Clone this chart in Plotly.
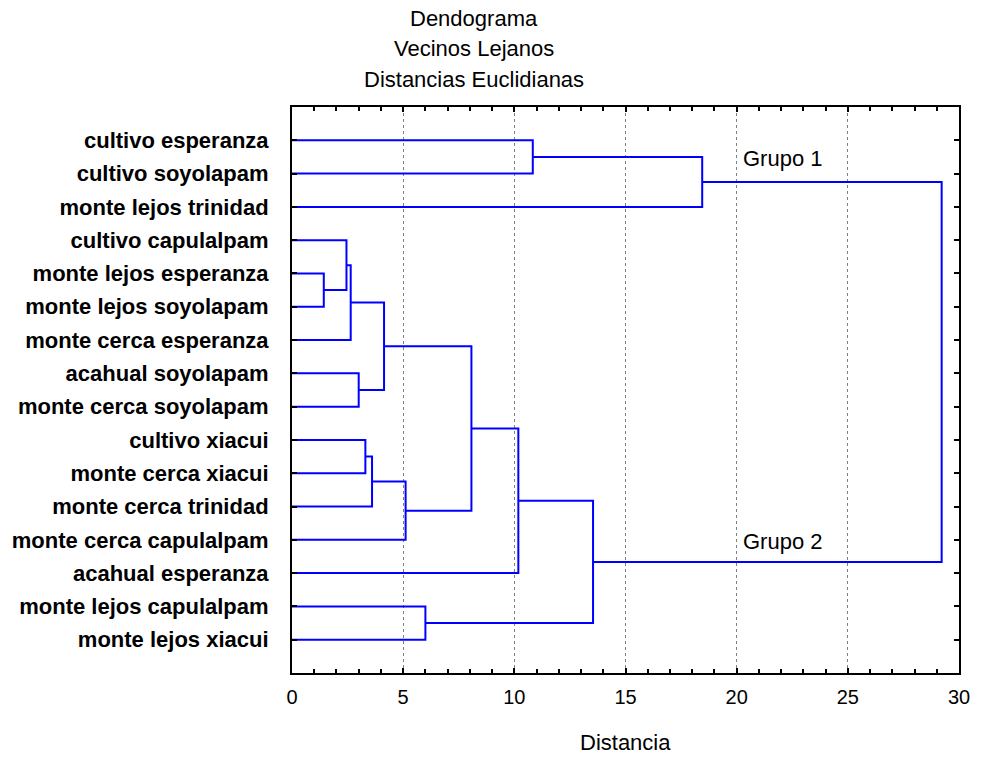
import plotly.graph_objects as go

# Leaves of the dendrogram, top to bottom
leaf_labels = [
    "cultivo esperanza",
    "cultivo soyolapam",
    "monte lejos trinidad",
    "cultivo capulalpam",
    "monte lejos esperanza",
    "monte lejos soyolapam",
    "monte cerca esperanza",
    "acahual soyolapam",
    "monte cerca soyolapam",
    "cultivo xiacui",
    "monte cerca xiacui",
    "monte cerca trinidad",
    "monte cerca capulalpam",
    "acahual esperanza",
    "monte lejos capulalpam",
    "monte lejos xiacui",
]

# Linkage steps (complete linkage, Euclidean distance).
# Indices 0..15 are leaves, 16.. are the clusters formed by each step in order.
merge_left = [0, 16, 4, 3, 19, 7, 20, 9, 23, 24, 22, 26, 14, 27, 17]
merge_right = [1, 2, 5, 18, 6, 8, 21, 10, 11, 12, 25, 13, 15, 28, 29]
merge_height = [10.83, 18.45, 1.43, 2.45, 2.64, 3.00, 4.14, 3.30, 3.60,
                5.11, 8.07, 10.18, 6.00, 13.54, 29.22]

group_labels = ["Grupo 1", "Grupo 2"]
group_label_pos = [(20.2, 1.55), (20.2, 13.05)]

x_ticks = [0, 5, 10, 15, 20, 25, 30]

title_lines = ["Dendograma", "Vecinos Lejanos", "Distancias Euclidianas"]
x_title = "Distancia"

# Node coordinates: leaves sit at 1..n on the category axis at distance 0
n = len(leaf_labels)
node_x = [0.0] * n
node_y = [float(i + 1) for i in range(n)]

seg_x, seg_y = [], []
for a, b, h in zip(merge_left, merge_right, merge_height):
    xa, ya = node_x[a], node_y[a]
    xb, yb = node_x[b], node_y[b]
    seg_x += [xa, h, h, xb, None]
    seg_y += [ya, ya, yb, yb, None]
    node_x.append(h)
    node_y.append((ya + yb) / 2.0)

fig = go.Figure()
fig.add_trace(go.Scatter(
    x=seg_x, y=seg_y, mode="lines",
    line=dict(color="#0000FF", width=2),
    hoverinfo="skip", showlegend=False,
))

font_regular = "Liberation Sans, Arial, sans-serif"

# Plot area in pixels (used to place the header block in paper coordinates)
plot_left, plot_right, plot_top, plot_bottom = 291, 966, 107, 673


def px_to_paper(xpx, ypx):
    return ((xpx - plot_left) / (plot_right - plot_left),
            (plot_bottom - ypx) / (plot_bottom - plot_top))


for text, (gx, gy) in zip(group_labels, group_label_pos):
    fig.add_annotation(x=gx, y=gy, xref="x", yref="y", text=text,
                       showarrow=False, xanchor="left", yanchor="middle",
                       font=dict(family=font_regular, size=22, color="black"))

# Header block
for txt, ypx in zip(title_lines, [18, 49, 79]):
    px, py = px_to_paper(475, ypx)
    fig.add_annotation(x=px, y=py, xref="paper", yref="paper", text=txt,
                       showarrow=False, xanchor="center", yanchor="middle",
                       font=dict(family=font_regular, size=22, color="black"))

px, py = px_to_paper(629, 742)
fig.add_annotation(x=px, y=py, xref="paper", yref="paper", text=x_title,
                   showarrow=False, xanchor="center", yanchor="middle",
                   font=dict(family=font_regular, size=22, color="black"))

fig.update_layout(
    width=982, height=758,
    margin=dict(l=plot_left, r=982 - plot_right, t=plot_top, b=758 - plot_bottom),
    paper_bgcolor="white", plot_bgcolor="white",
    font=dict(family=font_regular, size=20, color="black"),
)

fig.update_xaxes(
    range=[0, 30], tickvals=x_ticks, ticktext=[str(v) for v in x_ticks],
    ticks="inside", ticklen=5, tickwidth=2, tickcolor="black",
    showline=True, linewidth=2, linecolor="black", mirror="allticks",
    showgrid=True, gridcolor="#808080", gridwidth=1, griddash="dot",
    zeroline=False, ticklabelstandoff=5,
    minor=dict(dtick=1, ticks="inside", ticklen=4, tickwidth=2,
               tickcolor="black", showgrid=False),
    tickfont=dict(family=font_regular, size=20, color="black"),
)
fig.update_yaxes(
    range=[17, 0], tickvals=list(range(1, n + 1)), ticktext=leaf_labels,
    ticks="inside", ticklen=5, tickwidth=2, tickcolor="black",
    showline=True, linewidth=2, linecolor="black", mirror="allticks",
    showgrid=False, zeroline=False, ticklabelstandoff=17,
    tickfont=dict(family=font_regular, size=22, color="black", weight="bold"),
)

fig.write_html("out.html")
